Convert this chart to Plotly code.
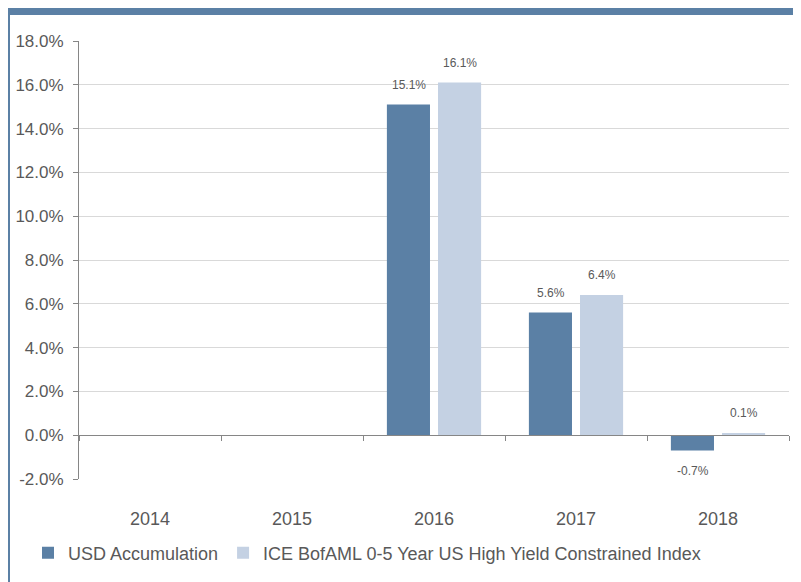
import plotly.graph_objects as go

years = ["2014", "2015", "2016", "2017", "2018"]
usd_accumulation = [None, None, 15.1, 5.6, -0.7]
ice_index = [None, None, 16.1, 6.4, 0.1]
series_names = ["USD Accumulation", "ICE BofAML 0-5 Year US High Yield Constrained Index"]
y_ticks = [-2, 0, 2, 4, 6, 8, 10, 12, 14, 16, 18]

OFF = 8  # default page body margin
W, H = 801 - OFF, 582 - OFF
L, R, T, B = 79 - OFF, 12, 41 - OFF, 103
PW, PH = W - L - R, H - T - B

def px_x(p):  # screen pixel -> paper x
    return (p - OFF - L) / PW

def px_y(p):  # screen pixel -> paper y
    return (H - B - (p - OFF)) / PH

DARK = "#5B80A5"
LIGHT = "#C4D1E3"
FONT = "Liberation Sans, Arial, sans-serif"
BAR_SHIFT = 25.5  # half of a bar slot in pixels

fig = go.Figure()
for name, vals, col in [(series_names[0], usd_accumulation, DARK), (series_names[1], ice_index, LIGHT)]:
    fig.add_trace(go.Bar(x=years, y=vals, name=name, marker=dict(color=col, line=dict(width=0))))

annotations = []
for vals, sx in [(usd_accumulation, -BAR_SHIFT), (ice_index, BAR_SHIFT)]:
    for i, v in enumerate(vals):
        if v is None:
            continue
        pos = v >= 0
        annotations.append(dict(
            x=i, y=v, xref="x", yref="y", text=f"{v:.1f}%", showarrow=False,
            xshift=sx, yshift=11 if pos else -11, yanchor="bottom" if pos else "top",
            font=dict(size=12, color="#595959", family=FONT),
        ))

fig.update_layout(
    width=W, height=H,
    margin=dict(l=L, r=R, t=T, b=B, autoexpand=False),
    paper_bgcolor="white", plot_bgcolor="white",
    font=dict(family=FONT, color="#595959", size=16),
    barmode="group", bargap=0.28, bargroupgap=0.157,
    showlegend=True,
    legend=dict(orientation="h", x=px_x(28), xanchor="left", y=px_y(553), yanchor="middle",
                font=dict(size=18, color="#595959"), itemwidth=30, traceorder="normal",
                bgcolor="rgba(0,0,0,0)"),
    xaxis=dict(type="category", categoryarray=years, categoryorder="array", range=[-0.5, 4.5],
               anchor="free", position=0.1, showline=True, linecolor="#868686",
               linewidth=1, ticks="outside", tickson="boundaries", ticklen=5, tickcolor="#868686",
               showgrid=False, ticklabelstandoff=67, automargin=False,
               tickfont=dict(size=18, color="#595959")),
    yaxis=dict(range=[-2, 18], tickvals=y_ticks, ticktext=[f"{v:.1f}%" for v in y_ticks],
               showline=True, linecolor="#868686", linewidth=1, ticks="outside", ticklen=5,
               tickcolor="#868686", showgrid=True, gridcolor="#D9D9D9", gridwidth=1,
               zeroline=False, ticklabelstandoff=6, automargin=False,
               tickfont=dict(size=17, color="#595959")),
    annotations=annotations,
    shapes=[
        dict(type="rect", xref="paper", yref="paper", x0=px_x(8), x1=px_x(801), y0=px_y(15), y1=px_y(8),
             fillcolor=DARK, line=dict(width=0), layer="above"),
        dict(type="line", xref="paper", yref="paper", x0=px_x(9), x1=px_x(9), y0=px_y(582), y1=px_y(15),
             line=dict(color=DARK, width=2), layer="above"),
    ],
)

fig.write_html("out.html")
